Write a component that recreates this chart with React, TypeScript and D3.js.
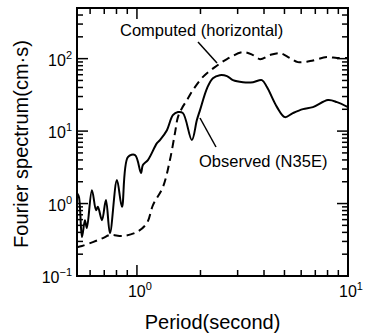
import React from "react";
import * as d3 from "d3";

const observedPeriod = [0.52, 0.531, 0.549, 0.567, 0.579, 0.612, 0.64, 0.653, 0.683, 0.713, 0.745, 0.804, 0.849, 0.906, 0.98, 1.045, 1.067, 1.127, 1.244, 1.285, 1.387, 1.48, 1.564, 1.652, 1.82, 1.923, 1.99, 2.15, 2.29, 2.47, 2.67, 2.85, 3.18, 3.55, 3.91, 4.13, 4.61, 5.02, 5.48, 6.12, 6.82, 8.04, 8.87, 10];
const observedValue = [1.4, 1.23, 0.345, 0.59, 0.46, 1.53, 0.81, 0.9, 0.59, 1.12, 0.39, 2.11, 0.9, 4.38, 4.67, 2.64, 3.4, 3.98, 6.82, 7.52, 10.3, 16.6, 18.3, 17.7, 7.52, 14.2, 19.5, 39.2, 53.8, 59.2, 57.4, 50.5, 47.4, 47.4, 50.5, 40.5, 21.4, 15.6, 17.7, 20.1, 21.4, 26.8, 25.1, 21.4];

const computedPeriod = [0.52, 0.549, 0.618, 0.69, 0.745, 0.859, 1.0, 1.115, 1.191, 1.328, 1.433, 1.514, 1.564, 1.634, 1.726, 1.842, 2.05, 2.34, 2.67, 3.18, 3.55, 3.83, 4.27, 4.76, 5.31, 5.79, 6.61, 7.94, 8.87, 10];
const computedValue = [0.25, 0.26, 0.294, 0.334, 0.368, 0.357, 0.405, 0.538, 0.953, 1.69, 3.98, 9.38, 15.6, 20.7, 26.8, 36.8, 55.6, 76.4, 98.4, 123, 112, 98.4, 112, 119, 102, 89.5, 92.5, 105, 102, 102];

const xDomain = [0.52, 10];
const yDomain = [0.1, 500];
const xMajor = [1, 10];
const xMajorExp = ["0", "1"];
const yMajor = [0.1, 1, 10, 100];
const yMajorExp = ["\u22121", "0", "1", "2"];

const W = 368, H = 334;
const L = 77, R = 348, T = 8, B = 276;
const FONT = "'Liberation Sans', Arial, Helvetica, sans-serif";

function minorTicks(lo: number, hi: number) {
  const out: number[] = [];
  for (let e = -2; e <= 3; e++) {
    for (let m = 1; m <= 9; m++) {
      const v = m * Math.pow(10, e);
      if (v >= lo * 0.9999 && v <= hi * 1.0001) out.push(v);
    }
  }
  return out;
}

export default function App() {
  const x = d3.scaleLog().domain(xDomain).range([L, R]);
  const y = d3.scaleLog().domain(yDomain).range([B, T]);
  const line = d3
    .line<[number, number]>()
    .x((d) => x(d[0]))
    .y((d) => y(d[1]))
    .curve(d3.curveCatmullRom.alpha(0.5));
  const obs = observedPeriod.map((p, i) => [p, observedValue[i]] as [number, number]);
  const comp = computedPeriod.map((p, i) => [p, computedValue[i]] as [number, number]);
  const xt = minorTicks(xDomain[0], xDomain[1]);
  const yt = minorTicks(yDomain[0], yDomain[1]);
  const isMajor = (v: number) => Math.abs(Math.log10(v) - Math.round(Math.log10(v))) < 1e-6;
  const majL = 11, minL = 6;

  return (
    <svg width={W} height={H} style={{ position: "absolute", left: 0, top: 0, background: "#fff" }} fontFamily={FONT}>
      <defs>
        <clipPath id="plot">
          <rect x={L} y={T} width={R - L} height={B - T} />
        </clipPath>
      </defs>
      <g clipPath="url(#plot)">
        <path d={line(comp) || ""} fill="none" stroke="#000" strokeWidth={2} strokeDasharray="8,5" />
        <path d={line(obs) || ""} fill="none" stroke="#000" strokeWidth={2} strokeLinejoin="round" />
      </g>
      {xt.map((v, i) => {
        const len = isMajor(v) ? majL : minL;
        const px = x(v);
        return (
          <g key={"xt" + i} stroke="#000" strokeWidth={1.5}>
            <line x1={px} x2={px} y1={B} y2={B - len} />
            <line x1={px} x2={px} y1={T} y2={T + len} />
          </g>
        );
      })}
      {yt.map((v, i) => {
        const len = isMajor(v) ? majL : minL;
        const py = y(v);
        return (
          <g key={"yt" + i} stroke="#000" strokeWidth={1.5}>
            <line x1={L} x2={L + len} y1={py} y2={py} />
            <line x1={R} x2={R - len} y1={py} y2={py} />
          </g>
        );
      })}
      <rect x={L} y={T} width={R - L} height={B - T} fill="none" stroke="#000" strokeWidth={2} />
      {xMajor.map((v, i) => (
        <text key={"xl" + i} x={x(v) + 3} y={297} textAnchor="middle" fontSize={16}>
          10<tspan dy={-7} fontSize={11}>{xMajorExp[i]}</tspan>
        </text>
      ))}
      {yMajor.map((v, i) => (
        <text key={"yl" + i} x={72} y={y(v) + 7} textAnchor="end" fontSize={16}>
          10<tspan dy={-7} fontSize={11}>{yMajorExp[i]}</tspan>
        </text>
      ))}
      <text x={(L + R) / 2} y={329} textAnchor="middle" fontSize={20}>Period(second)</text>
      <text transform={`translate(28,${(T + B) / 2 + 2}) rotate(-90)`} textAnchor="middle" fontSize={20}>
        Fourier spectrum(cm·s)
      </text>
      <text x={120} y={36} fontSize={16.5}>Computed (horizontal)</text>
      <line x1={198} y1={42} x2={217} y2={63} stroke="#000" strokeWidth={1.5} />
      <text x={199} y={167} fontSize={16.5}>Observed (N35E)</text>
      <line x1={200} y1={118} x2={216} y2={147} stroke="#000" strokeWidth={1.5} />
    </svg>
  );
}
